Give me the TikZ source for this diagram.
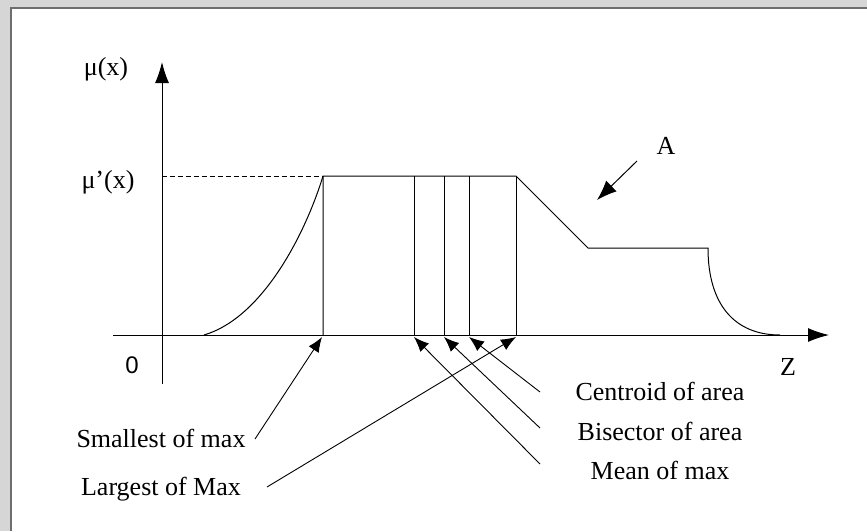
\documentclass[tikz,border=0pt]{standalone}
\usepackage{fontspec}
\setmainfont{Liberation Serif}
\newfontfamily\zerofont{Liberation Sans}
\usetikzlibrary{arrows.meta}
\definecolor{framegray}{HTML}{6E6E6E}
\definecolor{outgray}{HTML}{D6D6D6}
\tikzset{
  lbl/.style={inner sep=0pt, anchor=base, font=\fontsize{26}{30}\selectfont},
  ax/.style={line width=1pt, -{Latex[length=21pt,width=14pt]}},
  big/.style={line width=1pt, -{Latex[length=20pt,width=15pt]}},
  ptr/.style={line width=0.9pt, -{Latex[length=15pt,width=12pt]}},
  curve/.style={line width=1pt},
}
\begin{document}
\begin{tikzpicture}[x=1pt,y=-1pt]
\useasboundingbox (0,0) rectangle (867,531);
\fill[outgray] (0,0) rectangle (867,531);
\fill[white] (11,8) rectangle (867,531);
\draw[framegray,line width=2pt] (11,531) -- (11,8) -- (867,8);

% axes
\coordinate (yb) at (162,384);
\coordinate (yt) at (162,62);
\coordinate (xl) at (113,335);
\coordinate (xr) at (829,335);
\draw[ax] (yb) -- (yt);
\draw[ax] (xl) -- (xr);

% labels
\node[lbl] (mux) at (106,75) {μ(x)};
\node[lbl] (mupx) at (108,188) {μ’(x)};
\node[lbl,font=\zerofont\fontsize{24}{28}\selectfont] (zero) at (132,373) {0};
\node[lbl] (zl) at (788,375) {Z};
\node[lbl] (al) at (666,154) {A};

% key points
\coordinate (c0) at (204,335);
\coordinate (c1) at (323,176);
\coordinate (c1b) at (323,335);
\coordinate (p1) at (414,176);
\coordinate (p1b) at (414,335);
\coordinate (p2) at (444,176);
\coordinate (p2b) at (444,335);
\coordinate (p3) at (469,176);
\coordinate (p3b) at (469,335);
\coordinate (c2) at (516,176);
\coordinate (c2b) at (516,335);
\coordinate (c3) at (588,248);
\coordinate (c4) at (708,248);
\coordinate (c5) at (780,335);
\coordinate (dl) at (162,176);

% membership shape
\draw[dashed,line width=0.8pt,dash pattern=on 5pt off 3pt] (dl) -- (c1);
\draw[curve] (c0) .. controls (262,318) and (305,235) .. (c1);
\draw[curve] (c1b) -- (c1) -- (c2) -- (c3) -- (c4) .. controls (708,305) and (735,335) .. (c5);
\draw[curve] (c2) -- (c2b);
\draw[curve] (p1) -- (p1b);
\draw[curve] (p2) -- (p2b);
\draw[curve] (p3) -- (p3b);

% A arrow
\coordinate (at) at (637,161);
\coordinate (ah) at (597,200);
\draw[big] (at) -- (ah);

% bottom labels
\node[lbl] (small) at (161,447) {Smallest of max};
\node[lbl] (large) at (161,495) {Largest of Max};
\node[lbl] (cent) at (660,400) {Centroid of area};
\node[lbl] (bis) at (660,440) {Bisector of area};
\node[lbl] (mean) at (660,479) {Mean of max};

\coordinate (ts) at (255,439);
\coordinate (tl) at (267,487);
\coordinate (tc) at (540,392);
\coordinate (tb) at (540,428);
\coordinate (tm) at (540,464);
\coordinate (hs) at (322,337);
\coordinate (hl) at (516,337);
\coordinate (hc) at (469,337);
\coordinate (hb) at (444,337);
\coordinate (hm) at (414,337);
\draw[ptr] (ts) -- (hs);
\draw[ptr] (tl) -- (hl);
\draw[ptr] (tc) -- (hc);
\draw[ptr] (tb) -- (hb);
\draw[ptr] (tm) -- (hm);
\end{tikzpicture}
\end{document}
